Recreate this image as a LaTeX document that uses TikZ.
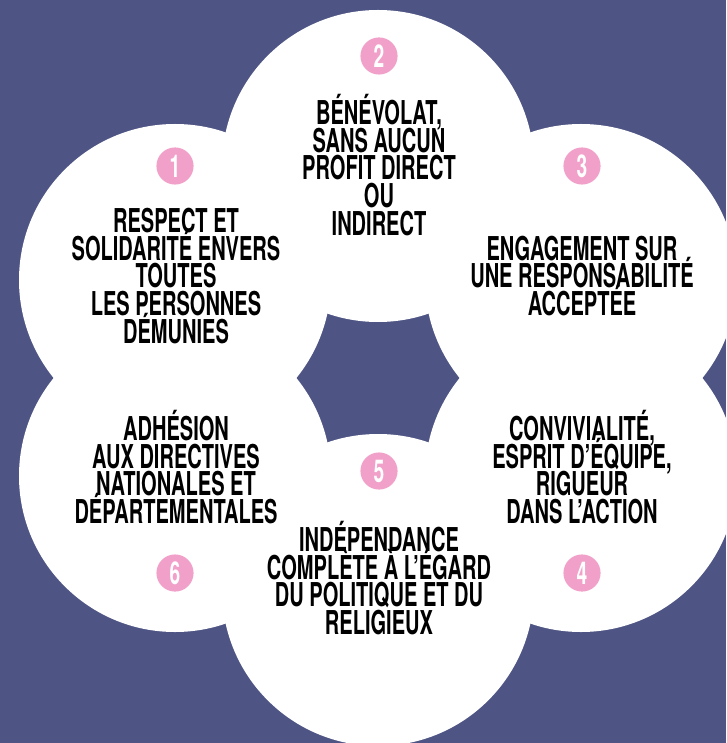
\documentclass[tikz,border=0pt]{standalone}
\usepackage{fontspec}
\setmainfont{TeX Gyre Heros}
\newfontfamily\petalfont[FakeStretch=0.61]{TeX Gyre Heros}
\newcommand\petalsize{\fontsize{23pt}{19.5pt}\selectfont\lineskiplimit-100pt\relax}
\definecolor{bgblue}{RGB}{78,85,132}
\definecolor{badgepink}{RGB}{241,160,201}
\tikzset{
	petal/.style={
		circle,
		fill=white,
		minimum size=218.4pt,
		inner sep=0pt},
	badge/.style={
		circle,
		fill=badgepink,
		minimum size=26pt,
		inner sep=0pt,
		text=white,
		font=\petalfont\bfseries\fontsize{22pt}{22pt}\selectfont},
	petaltext/.style={
		align=center,
		inner sep=0pt,
		text=black,
		font=\petalfont\bfseries\petalsize},
}

\begin{document}
\begin{tikzpicture}[x=0.7pt, y=-0.7pt]
	% Background, which also fixes the size of the page
	\fill[bgblue] (0,0) rectangle (726,743);
	\useasboundingbox (0,0) rectangle (726,743);

	% Six white petals set round a hexagonal hole in the middle
	\foreach \n/\x/\y in {1/175/280, 2/378/166, 3/581/280, 4/581/476, 5/378/590, 6/175/476}
		\node[petal] (petal\n) at (\x,\y) {};

	% Pink numbers on the petals
	\foreach \n/\x/\y in {1/175/166, 2/379/56, 3/582/166, 4/582/573, 5/379/471, 6/175/573}
		\node[badge] (badge\n) at (\x,\y) {\n};

	% Texts of the petals
	\node[petaltext] (text1) at (176,276) {RESPECT ET\\SOLIDARITÉ ENVERS\\TOUTES\\LES PERSONNES\\DÉMUNIES};
	\node[petaltext] (text2) at (379,165) {BÉNÉVOLAT,\\SANS AUCUN\\PROFIT DIRECT\\OU\\INDIRECT};
	\node[petaltext] (text3) at (582,276) {ENGAGEMENT SUR\\UNE RESPONSABILITÉ\\ACCEPTÉE};
	\node[petaltext] (text4) at (582,467) {CONVIVIALITÉ,\\ESPRIT D’ÉQUIPE,\\RIGUEUR\\DANS L’ACTION};
	\node[petaltext] (text5) at (379,578) {INDÉPENDANCE\\COMPLÈTE À L’ÉGARD\\DU POLITIQUE ET DU\\RELIGIEUX};
	\node[petaltext] (text6) at (176,467) {ADHÉSION\\AUX DIRECTIVES\\NATIONALES ET\\DÉPARTEMENTALES};
\end{tikzpicture}
\end{document}
